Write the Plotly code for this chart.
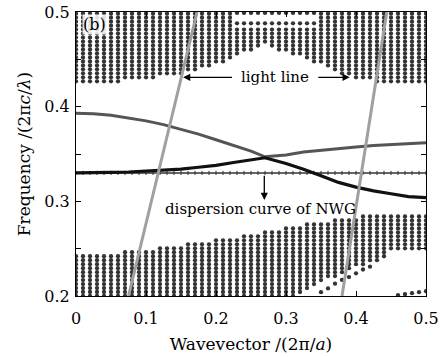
import plotly.graph_objects as go

# ---- data ----
K = [round(i * 0.01, 2) for i in range(51)]
lower_top = [0.245, 0.245, 0.245, 0.245, 0.246, 0.246, 0.246, 0.247, 0.247, 0.248,
             0.249, 0.250, 0.251, 0.252, 0.253, 0.254, 0.255, 0.256, 0.257, 0.258,
             0.259, 0.260, 0.261, 0.262, 0.263, 0.265, 0.266, 0.268, 0.269, 0.270,
             0.272, 0.273, 0.275, 0.276, 0.277, 0.278, 0.279, 0.280, 0.281, 0.282,
             0.283, 0.284, 0.285, 0.285, 0.286, 0.286, 0.287, 0.287, 0.288, 0.288, 0.288]
lower_bottom = [0.200] * 32 + [0.201, 0.206, 0.212, 0.215, 0.218, 0.221, 0.224, 0.227,
                               0.230, 0.233, 0.235, 0.237, 0.239, 0.249, 0.249, 0.249,
                               0.249, 0.249, 0.249]
upper_bottom = [0.424, 0.424, 0.424, 0.425, 0.425, 0.426, 0.426, 0.427, 0.428, 0.429,
                0.430, 0.431, 0.432, 0.433, 0.434, 0.435, 0.436, 0.438, 0.440, 0.442,
                0.444, 0.447, 0.450, 0.454, 0.457, 0.460, 0.463, 0.465, 0.463, 0.460,
                0.458, 0.455, 0.453, 0.450, 0.447, 0.445, 0.442, 0.438, 0.435, 0.432,
                0.430, 0.428, 0.427, 0.426, 0.425, 0.425, 0.424, 0.424, 0.423, 0.423, 0.423]
upper_top = [0.500] * 23 + [0.483] * 12 + [0.500] * 16
row_step = 0.0042

sparse_k = [0.35, 0.36, 0.37, 0.38, 0.39, 0.40, 0.41, 0.42, 0.46, 0.47, 0.48, 0.49, 0.50]
sparse_f = [0.204, 0.208, 0.213, 0.217, 0.220, 0.224, 0.228, 0.231, 0.201, 0.202, 0.203, 0.204, 0.205]
gap_rows = [0.488, 0.499]
gap_k = [round(0.23 + i * 0.01, 2) for i in range(12)]

band_k = [0, 0.025, 0.05, 0.075, 0.1, 0.125, 0.15, 0.175, 0.2, 0.225, 0.25, 0.27,
          0.3, 0.325, 0.35, 0.375, 0.4, 0.425, 0.45, 0.475, 0.5]
gray_band = [0.393, 0.3925, 0.391, 0.388, 0.385, 0.381, 0.376, 0.371, 0.365, 0.359, 0.353, 0.347,
             0.349, 0.352, 0.354, 0.356, 0.3575, 0.359, 0.360, 0.361, 0.362]
black_band = [0.330, 0.330, 0.3305, 0.331, 0.332, 0.333, 0.334, 0.336, 0.338, 0.341, 0.344, 0.346,
              0.340, 0.334, 0.327, 0.320, 0.315, 0.311, 0.308, 0.305, 0.304]
nwg_freq = 0.330
light_left_k = [0.075, 0.173]
light_right_k = [0.380, 0.444]
light_f = [0.2, 0.5]

# ---- build dots ----
dx, dy = [], []
nrows = int(round(0.3 / row_step)) + 1
for i, k in enumerate(K):
    for r in range(nrows):
        f = 0.2 + r * row_step
        if lower_bottom[i] - 1e-9 <= f <= lower_top[i] + 1e-9 or upper_bottom[i] - 1e-9 <= f <= upper_top[i] + 1e-9:
            dx.append(k)
            dy.append(f)
for k in gap_k:
    for f in gap_rows:
        dx.append(k)
        dy.append(f)
dx += sparse_k
dy += sparse_f

DOT = "#333333"
fig = go.Figure()
fig.add_trace(go.Scatter(x=dx, y=dy, mode="markers", cliponaxis=True,
                         marker=dict(color=DOT, size=4.3, line=dict(width=0)), hoverinfo="skip"))
fig.add_trace(go.Scatter(x=K, y=[nwg_freq] * len(K), mode="lines+markers",
                         line=dict(color="#333333", width=1.4),
                         marker=dict(symbol="line-ns-open", size=3, color="#333333", line=dict(width=1, color="#333333"))))
fig.add_trace(go.Scatter(x=band_k, y=gray_band, mode="lines", line=dict(color="#555555", width=3)))
fig.add_trace(go.Scatter(x=band_k, y=black_band, mode="lines", line=dict(color="#111111", width=3.2)))
fig.add_trace(go.Scatter(x=light_left_k, y=light_f, mode="lines", line=dict(color="#a0a0a0", width=3)))
fig.add_trace(go.Scatter(x=light_right_k, y=light_f, mode="lines", line=dict(color="#a0a0a0", width=3)))

FONT = "DejaVu Serif"
fig.add_annotation(x=0.008, y=0.487, xref="x", yref="y", text="(b)", showarrow=False,
                   xanchor="left", bgcolor="rgba(255,255,255,0.85)", borderpad=0,
                   font=dict(family=FONT, size=16, color="black"))
fig.add_annotation(x=0.284, y=0.431, text="light line", showarrow=False,
                   font=dict(family=FONT, size=15, color="black"))
fig.add_annotation(x=0.153, y=0.431, ax=0.225, ay=0.431, axref="x", ayref="y",
                   text="", showarrow=True, arrowhead=2, arrowsize=1.1, arrowwidth=1.3, arrowcolor="black")
fig.add_annotation(x=0.391, y=0.431, ax=0.344, ay=0.431, axref="x", ayref="y",
                   text="", showarrow=True, arrowhead=2, arrowsize=1.1, arrowwidth=1.3, arrowcolor="black")
fig.add_annotation(x=0.269, y=0.3015, ax=0.269, ay=0.3285, axref="x", ayref="y",
                   text="", showarrow=True, arrowhead=2, arrowsize=1.1, arrowwidth=1.3, arrowcolor="black")
fig.add_annotation(x=0.264, y=0.292, text="dispersion curve of NWG", showarrow=False,
                   font=dict(family=FONT, size=15, color="black"))

axis_common = dict(showgrid=False, zeroline=False, showline=True, linecolor="black", linewidth=1,
                   mirror="ticks", ticks="inside", ticklen=5, tickcolor="black", automargin=False,
                   ticklabeloverflow="allow",
                   tickfont=dict(family=FONT, size=16, color="black"))
fig.update_xaxes(range=[0, 0.5], tickvals=[0, 0.1, 0.2, 0.3, 0.4, 0.5],
                 ticktext=["0", "0.1", "0.2", "0.3", "0.4", "0.5"], ticklabelstandoff=8,
                 title=dict(text="Wavevector /(2π/<i>a</i>)", font=dict(family=FONT, size=17, color="black"), standoff=10),
                 **axis_common)
fig.update_yaxes(range=[0.2, 0.5], tickvals=[0.2, 0.25, 0.3, 0.35, 0.4, 0.45, 0.5],
                 ticktext=["0.2", "", "0.3", "", "0.4", "", "0.5"], ticklabelstandoff=2,
                 title=dict(text="Frequency /(2π<i>c</i>/<i>λ</i>)", font=dict(family=FONT, size=17, color="black"), standoff=9),
                 **axis_common)
fig.update_layout(width=441, height=357, margin=dict(l=76, r=15, t=12, b=61),
                  paper_bgcolor="white", plot_bgcolor="white", showlegend=False)
# remove the default page margin so the figure sits at the window's top-left corner
fig.write_html("out.html", config={"displayModeBar": False},
               post_script="document.body.style.margin='0';document.body.style.overflow='hidden';")
